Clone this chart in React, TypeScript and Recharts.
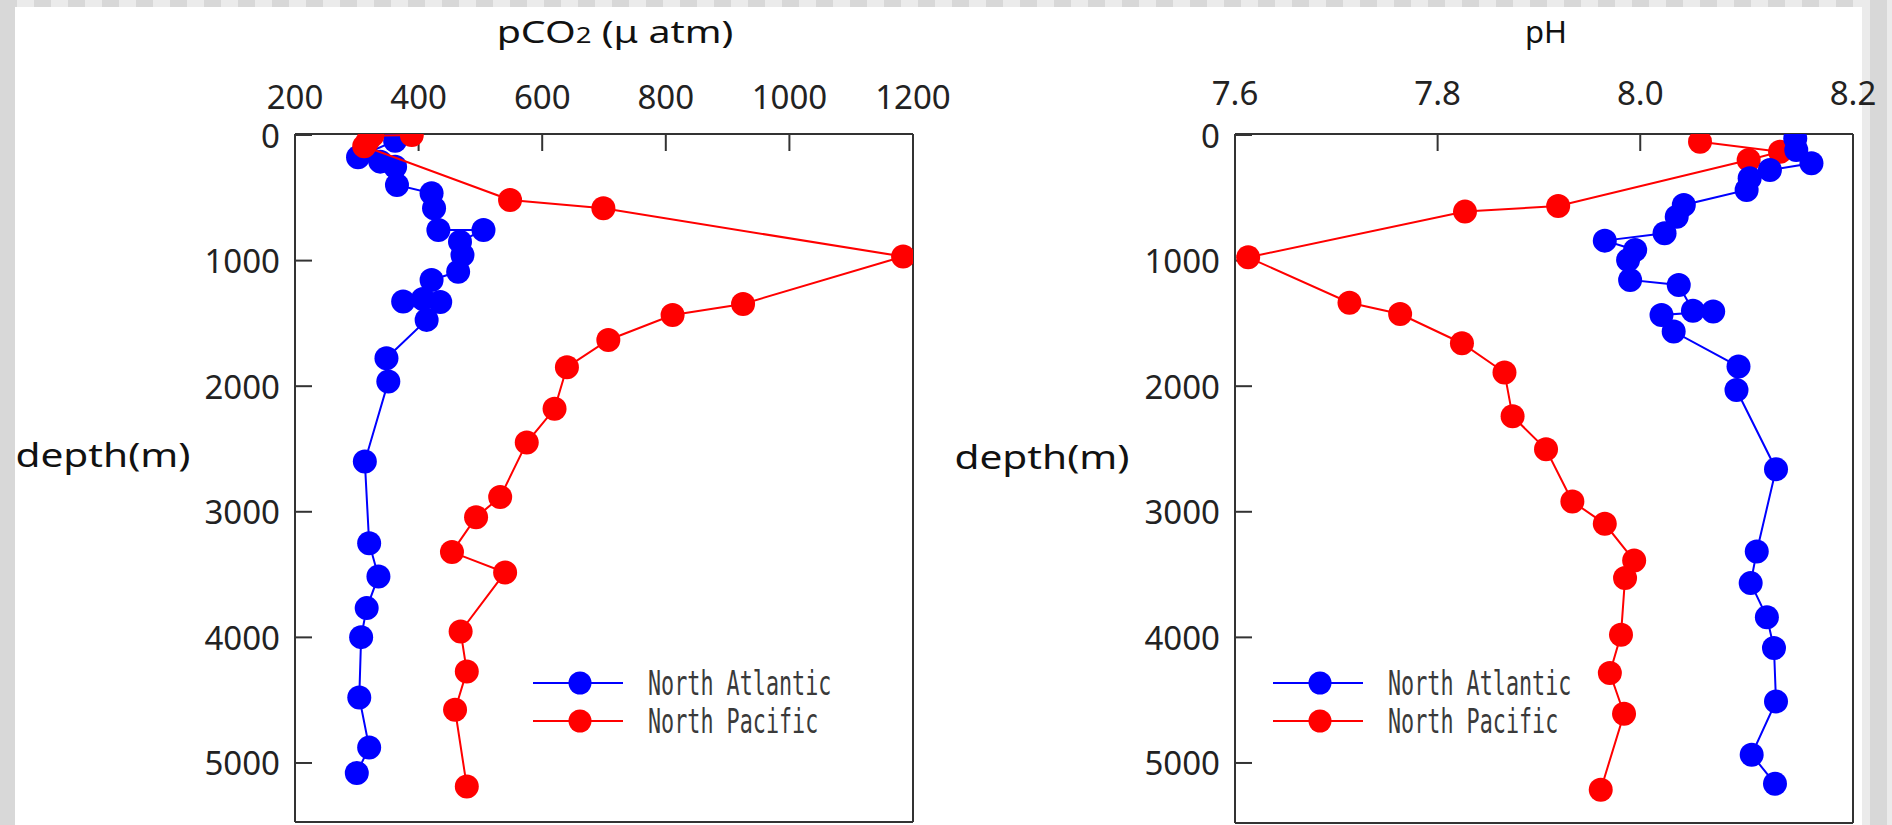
import React from "react";
import { ScatterChart, Scatter, XAxis, YAxis, Legend } from "recharts";

// axis ticks
const pco2Ticks = [200, 400, 600, 800, 1000, 1200];
const pco2BottomTicks = [400, 600, 800, 1000];
const phTicks = [7.6, 7.8, 8.0, 8.21];
const phTickLabels = ["7.6", "7.8", "8.0", "8.2"];
const phBottomTicks = [7.72, 7.84, 7.96, 8.08];
const depthTicks = [0, 1000, 2000, 3000, 4000, 5000];

const seriesNames = ["North Atlantic", "North Pacific"];
const seriesColors = ["#0000ff", "#ff0000"];

// pCO2 (µatm) profiles
const atlPco2 = [362, 302, 338, 362, 365, 421, 425, 432, 505, 467, 471, 464, 421, 407, 375, 435, 413, 348, 351, 313, 320, 335, 316, 307, 304, 320, 300];
const atlPco2Depth = [45, 177, 212, 252, 398, 464, 583, 756, 756, 849, 955, 1088, 1154, 1305, 1325, 1330, 1472, 1777, 1963, 2600, 3250, 3515, 3767, 3998, 4478, 4876, 5080];
const pacPco2 = [389, 325, 318, 312, 548, 699, 1184, 925, 811, 707, 640, 620, 575, 532, 493, 454, 540, 468, 478, 459, 478];
const pacPco2Depth = [0, 5, 45, 90, 517, 584, 968, 1345, 1433, 1632, 1849, 2180, 2449, 2883, 3043, 3321, 3483, 3953, 4271, 4576, 5187];

// pH profiles
const atlPh = [8.153, 8.154, 8.169, 8.128, 8.108, 8.105, 8.043, 8.036, 8.024, 7.965, 7.995, 7.988, 7.99, 8.038, 8.052, 8.072, 8.021, 8.033, 8.097, 8.095, 8.134, 8.115, 8.109, 8.125, 8.132, 8.134, 8.11, 8.133];
const atlPhDepth = [27, 120, 225, 279, 345, 438, 557, 650, 782, 841, 915, 995, 1154, 1194, 1400, 1406, 1433, 1565, 1844, 2030, 2661, 3316, 3568, 3839, 4085, 4510, 4934, 5165];
const pacPh = [8.059, 8.138, 8.107, 7.919, 7.827, 7.613, 7.713, 7.763, 7.824, 7.866, 7.874, 7.907, 7.933, 7.965, 7.994, 7.985, 7.981, 7.97, 7.984, 7.961];
const pacPhDepth = [53, 133, 199, 565, 610, 974, 1335, 1425, 1658, 1891, 2240, 2502, 2918, 3096, 3388, 3528, 3979, 4284, 4608, 5213];

const SANS = '"Noto Sans", "Noto Sans CJK JP", sans-serif';
const MONO = '"DejaVu Sans Mono", "Liberation Mono", monospace';
const INK = "#333";

type Pt = { v: number; d: number };
const zip = (vals: number[], depths: number[]): Pt[] => vals.map((v, i) => ({ v, d: depths[i] }));

const dot = (color: string) => (p: any) => <circle cx={p.cx} cy={p.cy} r={12} fill={color} />;

const tickText = (anchor: "middle" | "end", fmt?: (v: number) => string) => (p: any) => (
  <text
    x={p.x}
    y={p.y}
    textAnchor={anchor}
    dominantBaseline="central"
    fontFamily={SANS}
    fontSize={33}
    fill="#222"
  >
    {fmt ? fmt(p.payload.value) : p.payload.value}
  </text>
);

const LegendBox = () => (
  <div>
    {seriesNames.map((name, i) => (
      <div key={name} style={{ display: "flex", alignItems: "center", height: 38 }}>
        <svg width={90} height={26} style={{ flexShrink: 0 }}>
          <line x1={0} x2={90} y1={13} y2={13} stroke={seriesColors[i]} strokeWidth={2} />
          <circle cx={47} cy={13} r={11.5} fill={seriesColors[i]} />
        </svg>
        <span
          style={{
            marginLeft: 25,
            flexShrink: 0,
            fontFamily: MONO,
            fontSize: 34,
            lineHeight: 1,
            color: "#3a3a3a",
            display: "inline-block",
            transform: "scaleX(0.64)",
            transformOrigin: "left center",
            whiteSpace: "nowrap",
          }}
        >
          {name}
        </span>
      </div>
    ))}
  </div>
);

interface PanelProps {
  left: number;
  width: number;
  marginRight: number;
  marginBottom: number;
  xDomain: [number, number];
  topTicks: number[];
  topFmt?: (v: number) => string;
  topMargin: number;
  bottomTicks: number[];
  yDomain: [number, number];
  atl: Pt[];
  pac: Pt[];
  pacOnTop: boolean;
  legendLeft: number;
}

function Panel(p: PanelProps) {
  const line = { stroke: INK, strokeWidth: 2 };
  const atlSeries = (
    <Scatter
      key="atl"
      name={seriesNames[0]}
      data={p.atl}
      xAxisId="top"
      yAxisId="left"
      fill={seriesColors[0]}
      line={{ stroke: seriesColors[0], strokeWidth: 2 }}
      shape={dot(seriesColors[0])}
      isAnimationActive={false}
    />
  );
  const pacSeries = (
    <Scatter
      key="pac"
      name={seriesNames[1]}
      data={p.pac}
      xAxisId="top"
      yAxisId="left"
      fill={seriesColors[1]}
      line={{ stroke: seriesColors[1], strokeWidth: 2 }}
      shape={dot(seriesColors[1])}
      isAnimationActive={false}
    />
  );
  return (
    <div style={{ position: "absolute", left: p.left, top: 0 }}>
      <ScatterChart
        width={p.width}
        height={825}
        margin={{ top: 133, right: p.marginRight, bottom: p.marginBottom, left: 294 }}
      >
        <XAxis
          xAxisId="top"
          orientation="top"
          type="number"
          dataKey="v"
          domain={p.xDomain}
          allowDataOverflow
          ticks={p.topTicks}
          interval={0}
          height={1}
          tickSize={-17}
          tickMargin={p.topMargin}
          axisLine={line}
          tickLine={line}
          tick={tickText("middle", p.topFmt)}
        />
        <XAxis
          xAxisId="bottom"
          orientation="bottom"
          type="number"
          domain={p.xDomain}
          allowDataOverflow
          ticks={p.bottomTicks}
          interval={0}
          height={1}
          tickSize={-17}
          axisLine={line}
          tickLine={line}
          tick={false}
        />
        <YAxis
          yAxisId="left"
          type="number"
          dataKey="d"
          reversed
          domain={p.yDomain}
          allowDataOverflow
          ticks={depthTicks}
          interval={0}
          width={1}
          tickSize={-17}
          tickMargin={32}
          axisLine={line}
          tickLine={line}
          tick={tickText("end")}
        />
        <YAxis
          yAxisId="right"
          orientation="right"
          type="number"
          reversed
          domain={p.yDomain}
          allowDataOverflow
          ticks={depthTicks}
          interval={0}
          width={1}
          tickSize={-17}
          axisLine={line}
          tickLine={line}
          tick={false}
        />
        {p.pacOnTop ? [atlSeries, pacSeries] : [pacSeries, atlSeries]}
        <Legend
          layout="vertical"
          align="center"
          verticalAlign="middle"
          wrapperStyle={{ left: p.legendLeft, top: 664, width: 420 }}
          content={() => <LegendBox />}
        />
      </ScatterChart>
    </div>
  );
}

const Caption = ({ x, y, size, sx, children }: any) => (
  <div
    style={{
      position: "absolute",
      left: x,
      top: y,
      transform: `translate(-50%, -50%) scaleX(${sx})`,
      fontFamily: SANS,
      fontSize: size,
      lineHeight: 1,
      whiteSpace: "nowrap",
      color: "#111",
    }}
  >
    {children}
  </div>
);

export default function App() {
  return (
    <div
      style={{
        position: "absolute",
        left: 0,
        top: 0,
        width: 1892,
        height: 825,
        overflow: "hidden",
        background: "repeating-linear-gradient(90deg, #d8d8d8 0 17px, #ebebeb 17px 34px)",
      }}
    >
      <div style={{ position: "absolute", left: 15, top: 7, width: 1847, height: 818, background: "#fff" }} />
      <Panel
        left={0}
        width={960}
        marginRight={46}
        marginBottom={2}
        xDomain={[200, 1200]}
        topTicks={pco2Ticks}
        topMargin={55}
        bottomTicks={pco2BottomTicks}
        yDomain={[-8, 5470]}
        atl={zip(atlPco2, atlPco2Depth)}
        pac={zip(pacPco2, pacPco2Depth)}
        pacOnTop={true}
        legendLeft={533}
      />
      <Panel
        left={940}
        width={952}
        marginRight={38}
        marginBottom={1}
        xDomain={[7.6, 8.21]}
        topTicks={phTicks}
        topFmt={(v) => phTickLabels[phTicks.indexOf(v)]}
        topMargin={59}
        bottomTicks={phBottomTicks}
        yDomain={[-8, 5478]}
        atl={zip(atlPh, atlPhDepth)}
        pac={zip(pacPh, pacPhDepth)}
        pacOnTop={false}
        legendLeft={333}
      />
      <Caption x={615} y={31} size={31} sx={1.27}>
        pCO<span style={{ fontSize: "0.7em" }}>2</span> (μ atm)
      </Caption>
      <Caption x={1546} y={31} size={31} sx={1.0}>
        pH
      </Caption>
      <Caption x={103} y={455} size={32} sx={1.27}>
        depth(m)
      </Caption>
      <Caption x={1042} y={457} size={32} sx={1.27}>
        depth(m)
      </Caption>
    </div>
  );
}
